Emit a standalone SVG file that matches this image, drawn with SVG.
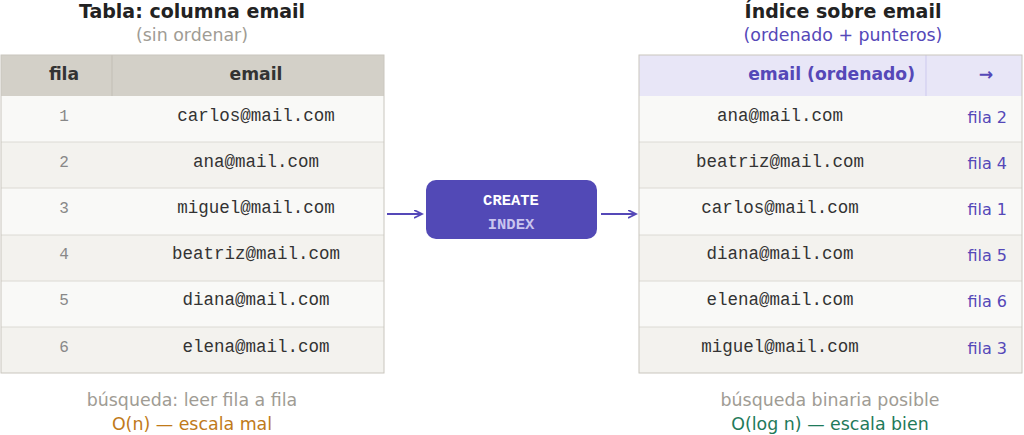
<svg xmlns="http://www.w3.org/2000/svg" width="1024" height="435" viewBox="0 0 1024 435">
<style>
.t{font-family:"DejaVu Sans",sans-serif;font-weight:bold;font-size:19px;fill:#222;text-anchor:middle}
.s{font-family:"DejaVu Sans",sans-serif;font-size:17.4px;text-anchor:middle}
.h{font-family:"DejaVu Sans",sans-serif;font-weight:bold;font-size:17.2px;fill:#333;text-anchor:middle}
.m{font-family:"Liberation Mono",monospace;font-size:17.5px;fill:#333;text-anchor:middle}
.n{font-family:"Liberation Mono",monospace;font-size:16px;fill:#888;text-anchor:middle}
.p{font-family:"DejaVu Sans",sans-serif;font-size:16px;fill:#5548b8;text-anchor:end}
.a{fill:#f9f9f7}.b{fill:#f3f2ee}
.ln{stroke:#dcdad4;stroke-width:1}
</style>
<defs><marker id="ar" markerWidth="10" markerHeight="10" refX="8" refY="4" orient="auto" markerUnits="userSpaceOnUse"><path d="M0,0 L8,4 L0,8" fill="none" stroke="#5548b8" stroke-width="1.8"/></marker></defs>
<rect width="1024" height="435" fill="#fff"/>
<text class="t" x="192" y="18">Tabla: columna email</text>
<text class="s" x="192" y="41" fill="#a09c94">(sin ordenar)</text>
<text class="t" x="843" y="18">Índice sobre email</text>
<text class="s" x="843" y="41" fill="#5548b8">(ordenado + punteros)</text>
<g id="left-table">
<rect x="1" y="55" width="383" height="41" fill="#d3d0c8"/>
<line x1="112" y1="55" x2="112" y2="96" stroke="#c2beb5"/>
<text class="h" x="64" y="80">fila</text><text class="h" x="256" y="80">email</text>
<rect class="a" x="1" y="96" width="383" height="46"/><rect class="b" x="1" y="142" width="383" height="46"/>
<rect class="a" x="1" y="188" width="383" height="47"/><rect class="b" x="1" y="235" width="383" height="46"/>
<rect class="a" x="1" y="281" width="383" height="46"/><rect class="b" x="1" y="327" width="383" height="46"/>
<g class="ln"><line x1="1" y1="142" x2="384" y2="142"/><line x1="1" y1="188" x2="384" y2="188"/><line x1="1" y1="235" x2="384" y2="235"/><line x1="1" y1="281" x2="384" y2="281"/><line x1="1" y1="327" x2="384" y2="327"/></g>
<rect x="1" y="55" width="383" height="318" fill="none" stroke="#c9c6be"/>
<text class="n" x="64" y="121">1</text><text class="m" x="256" y="121">carlos@mail.com</text>
<text class="n" x="64" y="167">2</text><text class="m" x="256" y="167">ana@mail.com</text>
<text class="n" x="64" y="213">3</text><text class="m" x="256" y="213">miguel@mail.com</text>
<text class="n" x="64" y="259">4</text><text class="m" x="256" y="259">beatriz@mail.com</text>
<text class="n" x="64" y="305">5</text><text class="m" x="256" y="305">diana@mail.com</text>
<text class="n" x="64" y="352">6</text><text class="m" x="256" y="352">elena@mail.com</text>
</g>
<g id="create-index">
<rect x="426" y="180" width="171" height="59" rx="10" fill="#5249b6"/>
<text x="511" y="205" font-family="Liberation Mono,monospace" font-weight="bold" font-size="15.5" fill="#fff" text-anchor="middle">CREATE</text>
<text x="511" y="229" font-family="Liberation Mono,monospace" font-weight="bold" font-size="15.5" fill="#c9c4ee" text-anchor="middle">INDEX</text>
</g>
<g id="right-table">
<rect x="639" y="55" width="383" height="41" fill="#e8e6f7"/>
<line x1="926" y1="55" x2="926" y2="96" stroke="#cdc9ee"/>
<text class="h" x="915" y="80" style="fill:#5548b8;text-anchor:end">email (ordenado)</text>
<text class="h" x="986" y="80" style="fill:#5548b8">→</text>
<rect class="a" x="639" y="96" width="383" height="46"/><rect class="b" x="639" y="142" width="383" height="46"/>
<rect class="a" x="639" y="188" width="383" height="47"/><rect class="b" x="639" y="235" width="383" height="46"/>
<rect class="a" x="639" y="281" width="383" height="46"/><rect class="b" x="639" y="327" width="383" height="46"/>
<g class="ln"><line x1="639" y1="142" x2="1022" y2="142"/><line x1="639" y1="188" x2="1022" y2="188"/><line x1="639" y1="235" x2="1022" y2="235"/><line x1="639" y1="281" x2="1022" y2="281"/><line x1="639" y1="327" x2="1022" y2="327"/></g>
<rect x="639" y="55" width="383" height="318" fill="none" stroke="#c9c6be"/>
<text class="m" x="780" y="121">ana@mail.com</text><text class="p" x="1007" y="123">fila 2</text>
<text class="m" x="780" y="167">beatriz@mail.com</text><text class="p" x="1007" y="169">fila 4</text>
<text class="m" x="780" y="213">carlos@mail.com</text><text class="p" x="1007" y="215">fila 1</text>
<text class="m" x="780" y="259">diana@mail.com</text><text class="p" x="1007" y="261">fila 5</text>
<text class="m" x="780" y="305">elena@mail.com</text><text class="p" x="1007" y="307">fila 6</text>
<text class="m" x="780" y="352">miguel@mail.com</text><text class="p" x="1007" y="354">fila 3</text>
</g>
<g id="connectors" stroke="#5548b8" stroke-width="2" fill="none">
<line x1="387" y1="214" x2="422" y2="214" marker-end="url(#ar)"/>
<line x1="601" y1="214" x2="636" y2="214" marker-end="url(#ar)"/>
</g>
<text class="s" x="192" y="406" fill="#a09c94">búsqueda: leer fila a fila</text>
<text class="s" x="192" y="430" fill="#c07a1a">O(n) — escala mal</text>
<text class="s" x="830" y="406" fill="#a09c94">búsqueda binaria posible</text>
<text class="s" x="830" y="430" fill="#1f7a5a">O(log n) — escala bien</text>
</svg>
